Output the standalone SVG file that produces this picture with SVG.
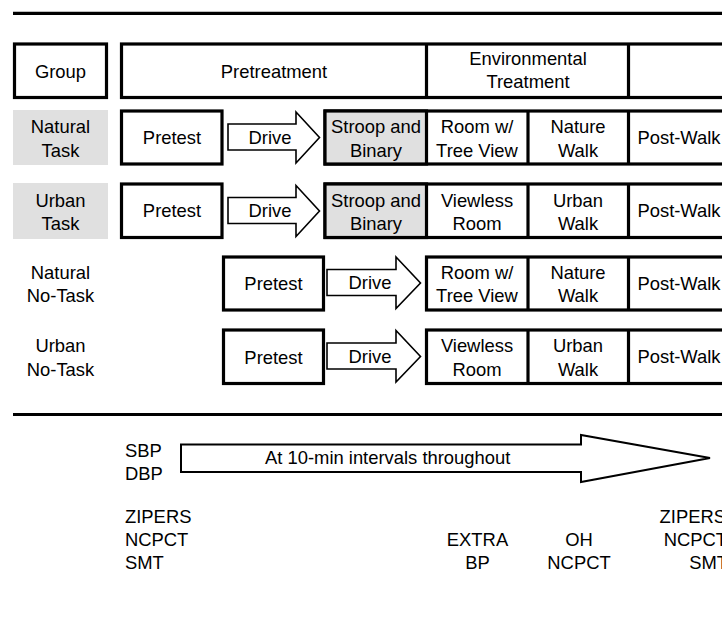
<svg xmlns="http://www.w3.org/2000/svg" width="722" height="618" viewBox="0 0 722 618">
<style>
text{font-family:"Liberation Sans",Arial,sans-serif;font-size:18.4px;fill:#000}
.c{text-anchor:middle}
.e{text-anchor:end}
.box{fill:#fff;stroke:#000;stroke-width:3.2}
.gbox{fill:#e0e0e0;stroke:#000;stroke-width:3.2}
.div{stroke:#000;stroke-width:3.2}
.lab{fill:#e0e0e0}
.arr{fill:#fff;stroke:#000;stroke-width:1.6;stroke-linejoin:miter}
.rule{stroke:#000;stroke-width:3.2}
</style>
<rect width="722" height="618" fill="#fff"/>
<line class="rule" x1="13" y1="13.3" x2="722" y2="13.3"/>
<line class="rule" x1="13" y1="414.5" x2="722" y2="414.5"/>

<g id="header">
  <g id="group-head"><rect class="box" x="14.5" y="44" width="92" height="53.5"/><text class="c" x="60.5" y="77.5">Group</text></g>
  <g id="phase-head">
    <rect class="box" x="121.5" y="44" width="620" height="53.5"/>
    <line class="div" x1="426.5" y1="44" x2="426.5" y2="97.5"/>
    <line class="div" x1="628.5" y1="44" x2="628.5" y2="97.5"/>
    <text class="c" x="274" y="77.5">Pretreatment</text>
    <text class="c" x="528" y="65">Environmental</text>
    <text class="c" x="528" y="88">Treatment</text>
  </g>
</g>

<g id="row1">
  <g id="label1"><rect class="lab" x="13" y="110" width="95" height="55"/><text class="c" x="60.5" y="133">Natural</text><text class="c" x="60.5" y="156.5">Task</text></g>
  <g id="pretest1"><rect class="box" x="121.5" y="111" width="100.5" height="53"/><text class="c" x="172" y="143.5">Pretest</text></g>
  <g id="seq1">
    <rect class="box" x="325" y="111" width="420" height="53"/>
    <rect class="gbox" x="325" y="111" width="101.5" height="53"/>
    <line class="div" x1="528" y1="111" x2="528" y2="164"/>
    <line class="div" x1="628.5" y1="111" x2="628.5" y2="164"/>
    <text class="c" x="376" y="133">Stroop and</text><text class="c" x="376" y="156.5">Binary</text>
    <text class="c" x="477" y="133">Room w/</text><text class="c" x="477" y="156.5">Tree View</text>
    <text class="c" x="578" y="133">Nature</text><text class="c" x="578" y="156.5">Walk</text>
    <text class="c" x="679" y="143.5">Post-Walk</text>
  </g>
</g>

<g id="row2">
  <g id="label2"><rect class="lab" x="13" y="183" width="95" height="56"/><text class="c" x="60.5" y="206.5">Urban</text><text class="c" x="60.5" y="229.5">Task</text></g>
  <g id="pretest2"><rect class="box" x="121.5" y="184" width="100.5" height="53.5"/><text class="c" x="172" y="217">Pretest</text></g>
  <g id="seq2">
    <rect class="box" x="325" y="184" width="420" height="53.5"/>
    <rect class="gbox" x="325" y="184" width="101.5" height="53.5"/>
    <line class="div" x1="528" y1="184" x2="528" y2="237.5"/>
    <line class="div" x1="628.5" y1="184" x2="628.5" y2="237.5"/>
    <text class="c" x="376" y="206.5">Stroop and</text><text class="c" x="376" y="229.5">Binary</text>
    <text class="c" x="477" y="206.5">Viewless</text><text class="c" x="477" y="229.5">Room</text>
    <text class="c" x="578" y="206.5">Urban</text><text class="c" x="578" y="229.5">Walk</text>
    <text class="c" x="679" y="217">Post-Walk</text>
  </g>
</g>

<g id="row3">
  <g id="label3"><text class="c" x="60.5" y="278.5">Natural</text><text class="c" x="60.5" y="302">No-Task</text></g>
  <g id="pretest3"><rect class="box" x="223.5" y="257" width="100" height="53"/><text class="c" x="273.5" y="290">Pretest</text></g>
  <g id="seq3">
    <rect class="box" x="426.5" y="257" width="320" height="53"/>
    <line class="div" x1="528" y1="257" x2="528" y2="310"/>
    <line class="div" x1="628.5" y1="257" x2="628.5" y2="310"/>
    <text class="c" x="477" y="278.5">Room w/</text><text class="c" x="477" y="301.5">Tree View</text>
    <text class="c" x="578" y="278.5">Nature</text><text class="c" x="578" y="301.5">Walk</text>
    <text class="c" x="679" y="289.5">Post-Walk</text>
  </g>
</g>

<g id="row4">
  <g id="label4"><text class="c" x="60.5" y="352">Urban</text><text class="c" x="60.5" y="375.5">No-Task</text></g>
  <g id="pretest4"><rect class="box" x="223.5" y="330" width="100" height="53.5"/><text class="c" x="273.5" y="363.5">Pretest</text></g>
  <g id="seq4">
    <rect class="box" x="426.5" y="330" width="320" height="53.5"/>
    <line class="div" x1="528" y1="330" x2="528" y2="383.5"/>
    <line class="div" x1="628.5" y1="330" x2="628.5" y2="383.5"/>
    <text class="c" x="477" y="352">Viewless</text><text class="c" x="477" y="375.5">Room</text>
    <text class="c" x="578" y="352">Urban</text><text class="c" x="578" y="375.5">Walk</text>
    <text class="c" x="679" y="363">Post-Walk</text>
  </g>
</g>

<g id="connectors">
  <g id="drive1"><polygon class="arr" points="228,124 296,124 296,112 319.5,137.5 296,163 296,150 228,150"/><text class="c" x="270" y="143.5">Drive</text></g>
  <g id="drive2"><polygon class="arr" points="228,197.5 296,197.5 296,185.5 319.5,211 296,236.5 296,223.5 228,223.5"/><text class="c" x="270" y="217">Drive</text></g>
  <g id="drive3"><polygon class="arr" points="327,269.5 396,269.5 396,257 420.5,283 396,308.5 396,295.5 327,295.5"/><text class="c" x="370" y="289">Drive</text></g>
  <g id="drive4"><polygon class="arr" points="327,343 396,343 396,330.5 420.5,356.5 396,382 396,369 327,369"/><text class="c" x="370" y="362.5">Drive</text></g>
  <g id="bp-arrow"><polygon class="arr" style="stroke-width:2" points="181,444.5 581,444.5 581,435 710,458 581,482 581,472 181,472"/><text x="265" y="463.5">At 10-min intervals throughout</text></g>
</g>

<g id="measures">
  <g id="m-bp"><text x="125" y="457">SBP</text><text x="125" y="480">DBP</text></g>
  <g id="m-pre"><text x="125" y="523">ZIPERS</text><text x="125" y="546">NCPCT</text><text x="125" y="569">SMT</text></g>
  <g id="m-extra"><text class="c" x="477.5" y="546">EXTRA</text><text class="c" x="477.5" y="569">BP</text></g>
  <g id="m-oh"><text class="c" x="579" y="546">OH</text><text class="c" x="579" y="569">NCPCT</text></g>
  <g id="m-post"><text class="e" x="726" y="522.5">ZIPERS</text><text class="e" x="727" y="546">NCPCT</text><text class="e" x="728" y="569">SMT</text></g>
</g>
</svg>
